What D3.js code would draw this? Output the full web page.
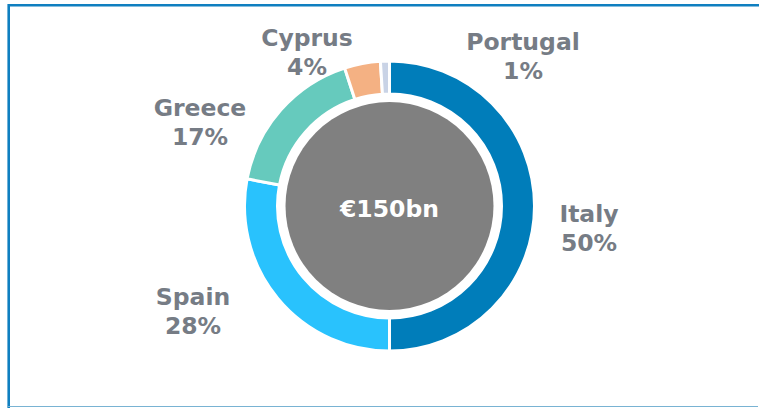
<!DOCTYPE html>
<html>
<head>
<meta charset="utf-8">
<script src="https://cdn.jsdelivr.net/npm/d3@7/dist/d3.min.js"></script>
<style>
  html, body { margin: 0; padding: 0; background: #fff; }
  svg { display: block; }
</style>
</head>
<body>
<svg id="chart" width="759" height="408"></svg>
<script>
// Data
const countries = ["Italy", "Spain", "Greece", "Cyprus", "Portugal"];
const shares = [50, 28, 17, 4, 1];
const colors = ["#007dba", "#29c2fd", "#66cabd", "#f4b183", "#c9d3e6"];
const centerLabel = "€150bn";

// Label layout (center x, first baseline y)
const labelPos = [[589, 222], [193, 305], [200, 116], [307, 46], [523, 50]];

const svg = d3.select("#chart");
const W = 759, H = 408;

// Frame
svg.append("line").attr("x1", 8).attr("x2", W).attr("y1", 5.2).attr("y2", 5.2)
  .attr("stroke", "#0f7fc0").attr("stroke-width", 2.6);
svg.append("line").attr("x1", 8.7).attr("x2", 8.7).attr("y1", 4).attr("y2", 408)
  .attr("stroke", "#0f7fc0").attr("stroke-width", 2.6);
svg.append("line").attr("x1", 8).attr("x2", 758).attr("y1", 406.5).attr("y2", 406.5)
  .attr("stroke", "#79b3d3").attr("stroke-width", 1.2);

const cx = 389.5, cy = 206;
const rOuter = 145, rInner = 112, rCore = 104;

const pie = d3.pie().sort(null).value(d => d)
  .startAngle(0).endAngle(2 * Math.PI);
const arcs = pie(shares);
const arc = d3.arc().innerRadius(rInner).outerRadius(rOuter);

const g = svg.append("g").attr("transform", `translate(${cx},${cy})`);
g.selectAll("path.slice").data(arcs).enter().append("path")
  .attr("class", "slice")
  .attr("d", arc)
  .attr("fill", (d, i) => colors[i])
  .attr("stroke", "#fff")
  .attr("stroke-width", 3)
  .attr("stroke-linejoin", "miter");

g.append("circle").attr("r", rCore).attr("fill", "#808080");

g.append("text")
  .attr("x", 0).attr("y", 11)
  .attr("text-anchor", "middle")
  .attr("font-family", "DejaVu Sans, Verdana, sans-serif")
  .attr("font-weight", "bold")
  .attr("font-size", 23.5)
  .attr("fill", "#fff")
  .text(centerLabel);

// Labels
const lbl = svg.append("g")
  .attr("font-family", "DejaVu Sans, Verdana, sans-serif")
  .attr("font-weight", "bold")
  .attr("font-size", 23.5)
  .attr("fill", "#767c85")
  .attr("text-anchor", "middle");

countries.forEach((c, i) => {
  const t = lbl.append("text").attr("x", labelPos[i][0]).attr("y", labelPos[i][1]);
  t.append("tspan").attr("x", labelPos[i][0]).text(c);
  t.append("tspan").attr("x", labelPos[i][0]).attr("dy", 29).text(shares[i] + "%");
});
</script>
</body>
</html>
